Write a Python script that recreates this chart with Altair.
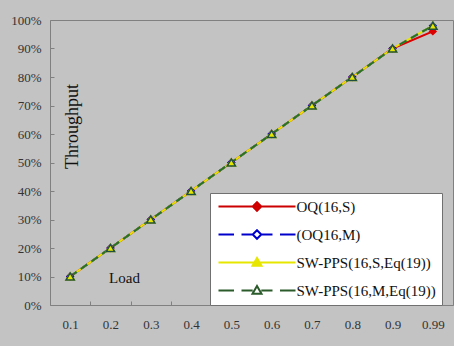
import altair as alt
import pandas as pd

# ---- data ----
loads = ["0.1", "0.2", "0.3", "0.4", "0.5", "0.6", "0.7", "0.8", "0.9", "0.99"]
series_names = ["OQ(16,S)", "(OQ16,M)", "SW-PPS(16,S,Eq(19))", "SW-PPS(16,M,Eq(19))"]
oq_s = [0.10, 0.20, 0.30, 0.40, 0.50, 0.60, 0.70, 0.80, 0.90, 0.96]
oq_m = [0.10, 0.20, 0.30, 0.40, 0.50, 0.60, 0.70, 0.80, 0.90, 0.98]
sw_s = [0.10, 0.20, 0.30, 0.40, 0.50, 0.60, 0.70, 0.80, 0.90, 0.98]
sw_m = [0.10, 0.20, 0.30, 0.40, 0.50, 0.60, 0.70, 0.80, 0.90, 0.98]
y_ticks = [0, 0.1, 0.2, 0.3, 0.4, 0.5, 0.6, 0.7, 0.8, 0.9, 1.0]

values = [oq_s, oq_m, sw_s, sw_m]
rows = []
for name, vals in zip(series_names, values):
    for l, v in zip(loads, vals):
        rows.append({"load": l, "value": v, "series": name})
df = pd.DataFrame(rows)

# ---- styles ----
line_colors = ["#dd0000", "#0000cc", "#e6e600", "#267326"]
dashes = [None, [8, 5], None, [8, 5]]
shapes = ["diamond", "diamond", "triangle-up", "triangle-up"]
fills = ["#dd0000", "white", "#e6e600", "transparent"]
sizes = [40, 40, 70, 70]
marker_strokes = ["#dd0000", "#0000cc", "#e6e600", "#1f4f3f"]

x_enc = alt.X(
    "load:N", sort=loads,
    scale=alt.Scale(type="band", paddingInner=0, paddingOuter=0),
    axis=alt.Axis(title="Load", labelAngle=0, tickBand="extent",
                  labelPadding=13, titleX=74, titleY=-24,
                  titleFontSize=15, titleBaseline="middle", titleAlign="center"),
)
y_enc = alt.Y(
    "value:Q",
    scale=alt.Scale(domain=[0, 1], nice=False),
    axis=alt.Axis(title="Throughput", values=y_ticks, format=".0%",
                  labelPadding=9, titleX=18.5, titleY=106, titleAngle=270,
                  titleFontSize=18, titleBaseline="middle", titleAlign="center"),
)

layers = []
for i, name in enumerate(series_names):
    lk = dict(color=line_colors[i], strokeWidth=2)
    if dashes[i]:
        lk["strokeDash"] = dashes[i]
    layers.append(
        alt.Chart(df).transform_filter(alt.datum.series == name)
        .mark_line(**lk).encode(x=x_enc, y=y_enc)
    )
for i in [0, 1, 2, 3]:
    name = series_names[i]
    pk = dict(shape=shapes[i], stroke=marker_strokes[i], strokeWidth=1.5,
              size=sizes[i], opacity=1, filled=True, fill=fills[i])
    layers.append(
        alt.Chart(df).transform_filter(alt.datum.series == name)
        .mark_point(**pk).encode(x=x_enc, y=y_enc)
    )

# legend symbols: line segment(s) plus marker, as custom symbol paths
# (symbol size 100 -> 1 path unit = 5 px)
L = 7.7
d = 0.86
diamond = f"M0,-{d}L{d},0L0,{d}L-{d},0Z"
tri = "M0,-0.9L0.9,0.65L-0.9,0.65Z"
solid = f"M-{L},0H{L}"
dashed = f"M-{L},0H-4.6M-3.1,0H-{d}M{d},0H3.1M4.6,0H{L}"
legend_paths = [solid + diamond, dashed + diamond, solid + tri, dashed + tri]
legend_fills = ["#dd0000", "white", "#e6e600", "white"]
legend_strokes = ["#cc0000", "#0000cc", "#e6e600", "#2b5a2b"]

legend_df = pd.DataFrame({"series": series_names})
legend_layer = (
    alt.Chart(legend_df).transform_filter("false")
    .mark_point(filled=True, opacity=1, strokeWidth=2)
    .encode(
        shape=alt.Shape("series:N", title=None,
                        scale=alt.Scale(domain=series_names, range=legend_paths)),
        fill=alt.Fill("series:N", title=None,
                      scale=alt.Scale(domain=series_names, range=legend_fills)),
        stroke=alt.Stroke("series:N", title=None,
                          scale=alt.Scale(domain=series_names, range=legend_strokes)),
    )
)

chart = (
    alt.layer(*layers, legend_layer)
    .properties(width=403, height=285,
                autosize=alt.AutoSizeParams(type="none"),
                padding={"left": 50, "top": 20, "right": 1, "bottom": 41},
                background="#c3c3c3")
    .configure_view(fill="white", stroke="#808080", strokeWidth=1)
    .configure_axis(domain=False, grid=False, offset=-4, tickSize=4,
                    tickColor="#808080", labelFont="Liberation Serif",
                    labelFontSize=13, labelColor="#333333",
                    titleFont="Liberation Serif", titleFontWeight="normal",
                    titleColor="#111111")
    .configure_legend(orient="none", legendX=160, legendY=173, padding=6,
                      strokeColor="#707070", fillColor="white",
                      labelFont="Liberation Serif", labelFontSize=15,
                      labelColor="#111111", symbolSize=100, symbolOffset=33.5,
                      symbolStrokeWidth=2, rowPadding=11, labelOffset=32,
                      labelLimit=300)
)

chart.save("out.html", embed_options={"renderer": "svg", "actions": False})
